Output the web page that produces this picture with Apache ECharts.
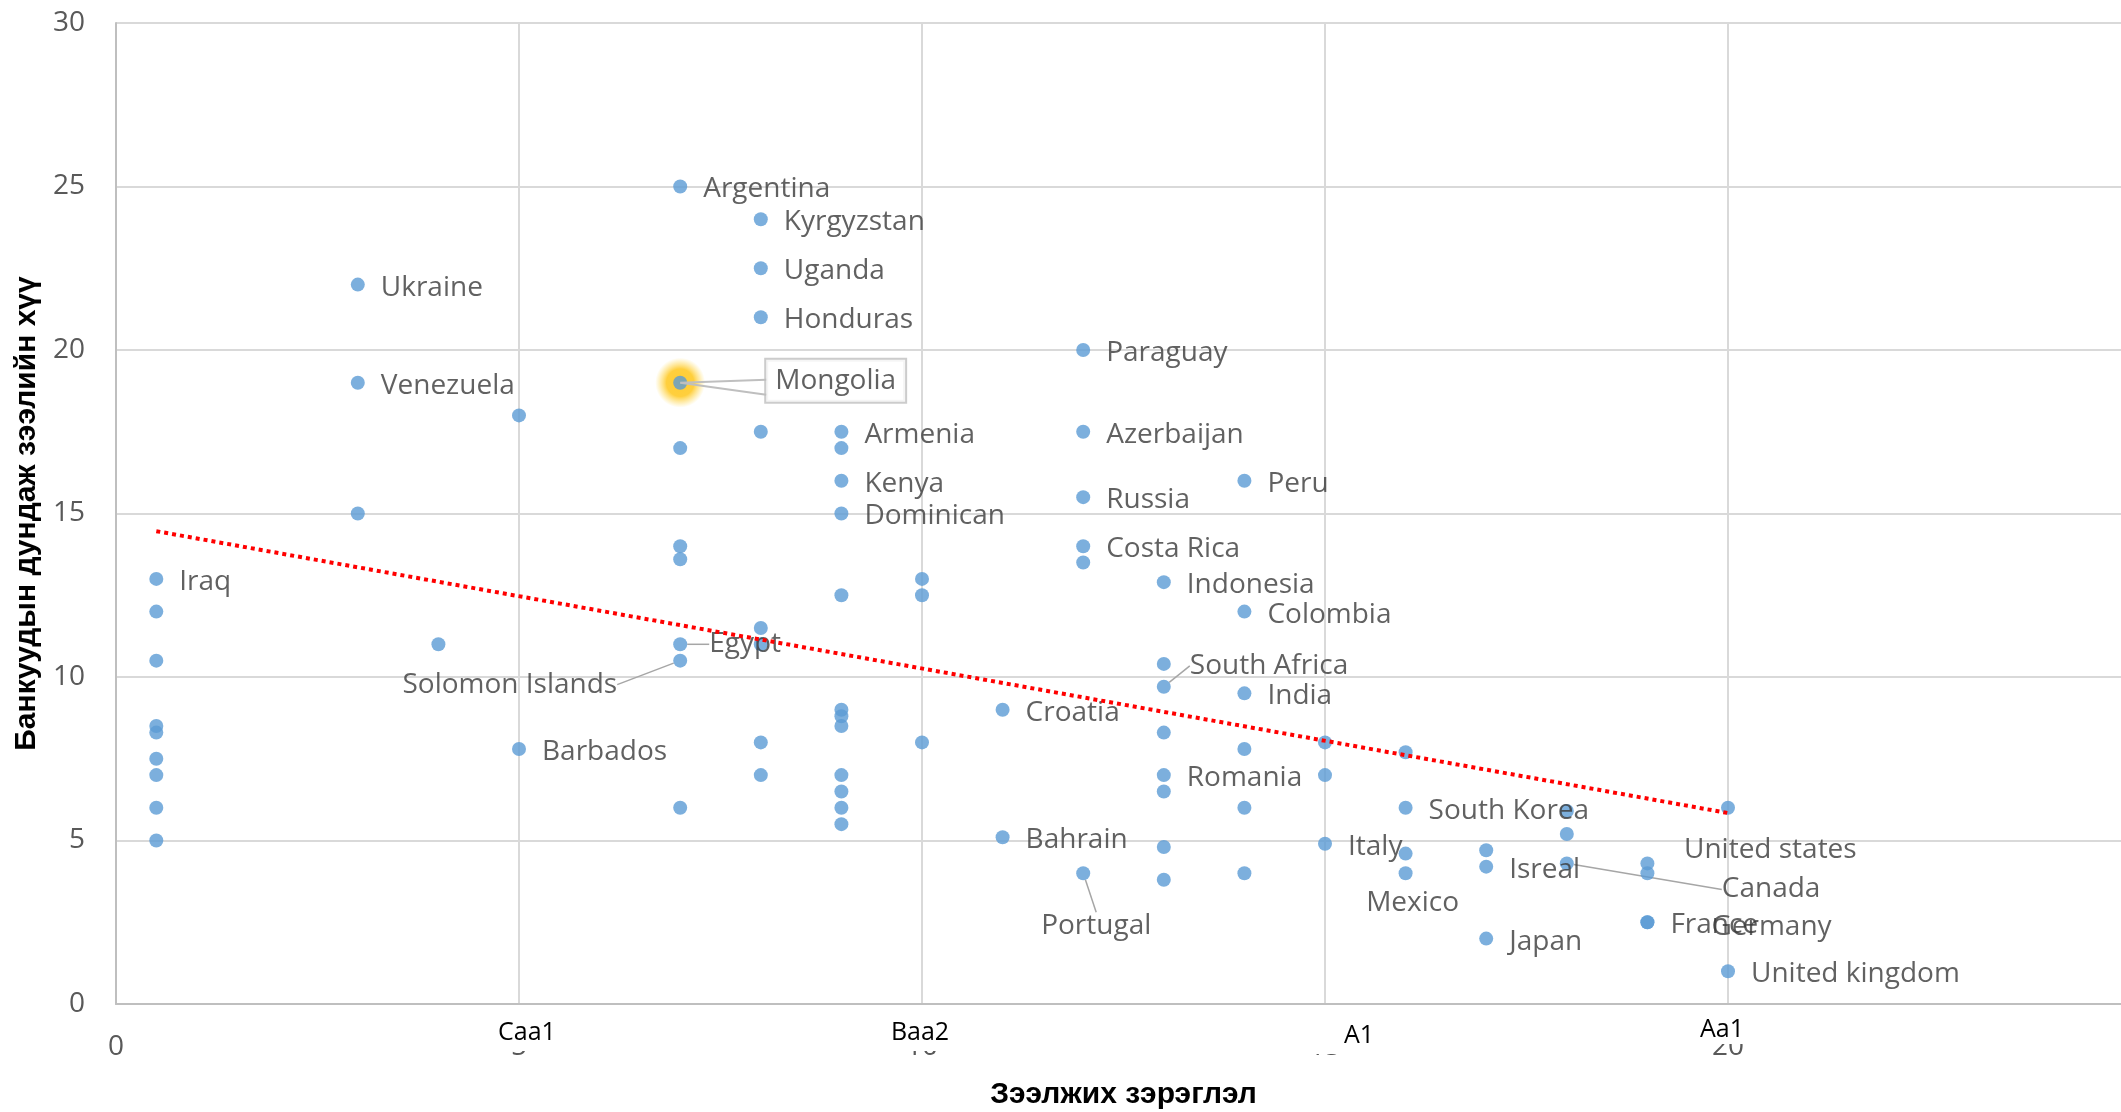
<!DOCTYPE html>
<html>
<head>
<meta charset="utf-8">
<script src="https://cdn.jsdelivr.net/npm/echarts@6/dist/echarts.min.js"></script>
<style>
  html, body { margin: 0; padding: 0; background: #ffffff; }
  #chart { width: 2121px; height: 1112px; }
</style>
</head>
<body>
<div id="chart"></div>
<script>
// Rating score (x) and average bank lending rate (y) for each country
const ratingScore = [
  0.5, 0.5, 0.5, 0.5, 0.5, 0.5, 0.5, 0.5, 0.5,
  3, 3, 3,
  4,
  5, 5,
  7, 7, 7, 7, 7, 7, 7, 7,
  8, 8, 8, 8, 8, 8, 8, 8,
  9, 9, 9, 9, 9, 9, 9, 9, 9, 9, 9, 9,
  10, 10, 10,
  11, 11,
  12, 12, 12, 12, 12, 12,
  13, 13, 13, 13, 13, 13, 13, 13,
  14, 14, 14, 14, 14, 14,
  15, 15, 15,
  16, 16, 16, 16,
  17, 17, 17,
  18, 18, 18,
  19, 19, 19, 19,
  20, 20
];
const avgLoanRate = [
  13, 12, 10.5, 8.5, 8.3, 7.5, 7, 6, 5,
  22, 19, 15,
  11,
  18, 7.8,
  25, 19, 17, 14, 13.6, 11, 10.5, 6,
  24, 22.5, 21, 17.5, 11.5, 11, 8, 7,
  17.5, 17, 16, 15, 12.5, 9, 8.8, 8.5, 7, 6.5, 6, 5.5,
  13, 12.5, 8,
  9, 5.1,
  20, 17.5, 15.5, 14, 13.5, 4,
  12.9, 10.4, 9.7, 8.3, 7, 6.5, 4.8, 3.8,
  16, 12, 9.5, 7.8, 6, 4,
  8, 7, 4.9,
  7.7, 6, 4.6, 4,
  4.7, 4.2, 2,
  5.9, 5.2, 4.3,
  4.3, 4, 2.5, 2.5,
  6, 1
];
const countryName = [
  'Iraq', '', '', '', '', '', '', '', '',
  'Ukraine', 'Venezuela', '',
  '',
  '', 'Barbados',
  'Argentina', 'Mongolia', '', '', '', 'Egypt', 'Solomon Islands', '',
  'Kyrgyzstan', 'Uganda', 'Honduras', '', '', '', '', '',
  'Armenia', '', 'Kenya', 'Dominican', '', '', '', '', '', '', '', '',
  '', '', '',
  'Croatia', 'Bahrain',
  'Paraguay', 'Azerbaijan', 'Russia', 'Costa Rica', '', 'Portugal',
  'Indonesia', '', 'South Africa', '', 'Romania', '', '', '',
  'Peru', 'Colombia', 'India', '', '', '',
  '', '', 'Italy',
  '', 'South Korea', '', 'Mexico',
  '', 'Isreal', 'Japan',
  '', '', 'Canada',
  '', '', 'France', 'Germany',
  'United states', 'United kingdom'
];

// Linear trend line end points
const trendScore = [0.5, 20];
const trendRate = [14.46, 5.84];

// Axis ticks
const scoreTickLabels = [0, 5, 10, 15, 20];
const ratingTickScore = [5, 10, 15, 20];
const ratingTickText = ['Caa1', 'Baa2', 'A1', 'Aa1'];

const highlightCountry = 'Mongolia';

// ---- styling ----
const labelFont = "'Open Sans', 'Liberation Sans', sans-serif";
const titleFont = "'Liberation Sans', Arial, sans-serif";
const leaderStyle = { color: '#A6A6A6', width: 1.5 };
const labelNudge = 3; // small downward nudge for all point labels

// label placement tweaks for crowded points (shift in px after default placement)
const labelPlacement = {
  'Mongolia':        { position: 'right',  distance: 79, shift: [0, -5], box: true },
  'Egypt':           { position: 'right',  distance: 22, shift: [0, -3], line: true },
  'Solomon Islands': { position: 'left',   distance: 56, shift: [0, 21], line: true },
  'South Africa':    { position: 'right',  distance: 19, shift: [0, -24], line: true },
  'Portugal':        { position: 'bottom', distance: 31, shift: [13, -2], line: true },
  'Mexico':          { position: 'bottom', distance: 8,  shift: [7, -2] },
  'Canada':          { position: 'right',  distance: 16, shift: [132, 23], line: true },
  'United states':   { position: 'right',  distance: 16, shift: [-67, 39] },
  'Germany':         { position: 'right',  distance: 16, shift: [41, 2] }
};

const points = ratingScore.map((x, i) => {
  const name = countryName[i];
  const item = { value: [x, avgLoanRate[i]], name: name };
  if (!name) {
    item.label = { show: false };
    return item;
  }
  const p = labelPlacement[name] || {};
  item.label = {
    show: true,
    position: p.position || 'right',
    distance: p.distance != null ? p.distance : 16
  };
  if (p.box) {
    Object.assign(item.label, {
      backgroundColor: '#ffffff',
      borderColor: '#BFBFBF',
      borderWidth: 2,
      padding: [7, 9]
    });
  }
  if (p.line) {
    item.labelLine = { show: true, lineStyle: leaderStyle };
  }
  return item;
});

const highlightPoints = points
  .filter(p => p.name === highlightCountry)
  .map(p => ({ value: p.value }));

const trendData = trendScore.map((x, i) => [x, trendRate[i]]);

const chart = echarts.init(document.getElementById('chart'), null, { renderer: 'canvas' });

chart.setOption({
  backgroundColor: '#ffffff',
  animation: false,
  grid: {
    left: 116, top: 23, width: 2015, height: 981,
    containLabel: false,
    outerBoundsMode: 'none'
  },
  xAxis: [
    {
      type: 'value',
      min: 0, max: 25, interval: 5,
      position: 'bottom',
      name: 'Зээлжих зэрэглэл',
      nameLocation: 'middle',
      nameGap: 76,
      nameTextStyle: { fontFamily: titleFont, fontWeight: 'bold', fontSize: 30, color: '#000000' },
      axisLine: { show: true, lineStyle: { color: '#BFBFBF', width: 2 } },
      axisTick: { show: false },
      splitLine: { show: true, lineStyle: { color: '#D9D9D9', width: 2 } },
      axisLabel: {
        margin: 29,
        color: '#595959',
        fontFamily: labelFont,
        fontSize: 28,
        showMaxLabel: false,
        formatter: v => (scoreTickLabels.indexOf(v) >= 0 ? String(v) : '')
      }
    },
    {
      type: 'value',
      min: 0, max: 25, interval: 5,
      position: 'bottom',
      offset: 0,
      z: 10,
      axisLine: { show: false },
      axisTick: { show: false },
      splitLine: { show: false },
      axisLabel: {
        margin: 2,
        showMaxLabel: false,
        formatter: v => {
          const k = ratingTickScore.indexOf(v);
          return k < 0 ? '' : '{r' + v + '|' + ratingTickText[k] + '}';
        },
        rich: {
          r5:  { fontFamily: labelFont, fontSize: 25, color: '#000000', backgroundColor: '#ffffff', padding: [14, 4, 6, 20] },
          r10: { fontFamily: labelFont, fontSize: 25, color: '#000000', backgroundColor: '#ffffff', padding: [14, 7, 6, 3] },
          r15: { fontFamily: labelFont, fontSize: 25, color: '#000000', backgroundColor: '#ffffff', padding: [17, 4, 6, 72] },
          r20: { fontFamily: labelFont, fontSize: 25, color: '#000000', backgroundColor: '#ffffff', padding: [11, 15, 2, 3] }
        }
      }
    }
  ],
  yAxis: {
    type: 'value',
    min: 0, max: 30, interval: 5,
    name: 'Банкуудын дундаж зээлийн хүү',
    nameLocation: 'middle',
    nameGap: 72,
    nameTextStyle: { fontFamily: titleFont, fontWeight: 'bold', fontSize: 30, color: '#000000' },
    axisLine: { show: true, lineStyle: { color: '#BFBFBF', width: 2 } },
    axisTick: { show: false },
    splitLine: { show: true, lineStyle: { color: '#D9D9D9', width: 2 } },
    axisLabel: { margin: 31, color: '#595959', fontFamily: labelFont, fontSize: 28 }
  },
  series: [
    {
      name: 'glow',
      type: 'scatter',
      silent: true,
      z: 1,
      symbolSize: 50,
      itemStyle: {
        color: {
          type: 'radial', x: 0.5, y: 0.5, r: 0.5,
          colorStops: [
            { offset: 0, color: 'rgba(255,192,0,1)' },
            { offset: 0.55, color: 'rgba(255,192,0,0.95)' },
            { offset: 0.8, color: 'rgba(255,205,40,0.45)' },
            { offset: 1, color: 'rgba(255,215,60,0)' }
          ]
        }
      },
      data: highlightPoints
    },
    {
      name: 'callout',
      type: 'custom',
      silent: true,
      z: 4,
      renderItem: (params, api) => {
        const pt = api.coord([api.value(0), api.value(1)]);
        return {
          type: 'polyline',
          shape: { points: [[pt[0] + 86, pt[1] - 3], [pt[0], pt[1]], [pt[0] + 86, pt[1] + 12]] },
          style: { stroke: '#BFBFBF', lineWidth: 2, fill: null }
        };
      },
      data: highlightPoints
    },
    {
      name: 'countries',
      type: 'scatter',
      z: 2,
      symbol: 'circle',
      symbolSize: 14,
      itemStyle: { color: '#5B9BD5' },
      label: {
        show: true,
        formatter: '{b}',
        color: '#3a3a3a',
        fontFamily: labelFont,
        fontSize: 28
      },
      labelLine: { show: false, lineStyle: leaderStyle },
      labelLayout: params => {
        const name = countryName[params.dataIndex];
        const p = labelPlacement[name];
        const shift = p && p.shift ? p.shift : [0, 0];
        return { dx: shift[0], dy: shift[1] + labelNudge };
      },
      data: points
    },
    {
      name: 'trend',
      type: 'line',
      z: 3,
      silent: true,
      showSymbol: false,
      symbol: 'none',
      lineStyle: { color: '#FF0000', width: 4, type: [4, 4] },
      data: trendData
    }
  ]
});
</script>
</body>
</html>
